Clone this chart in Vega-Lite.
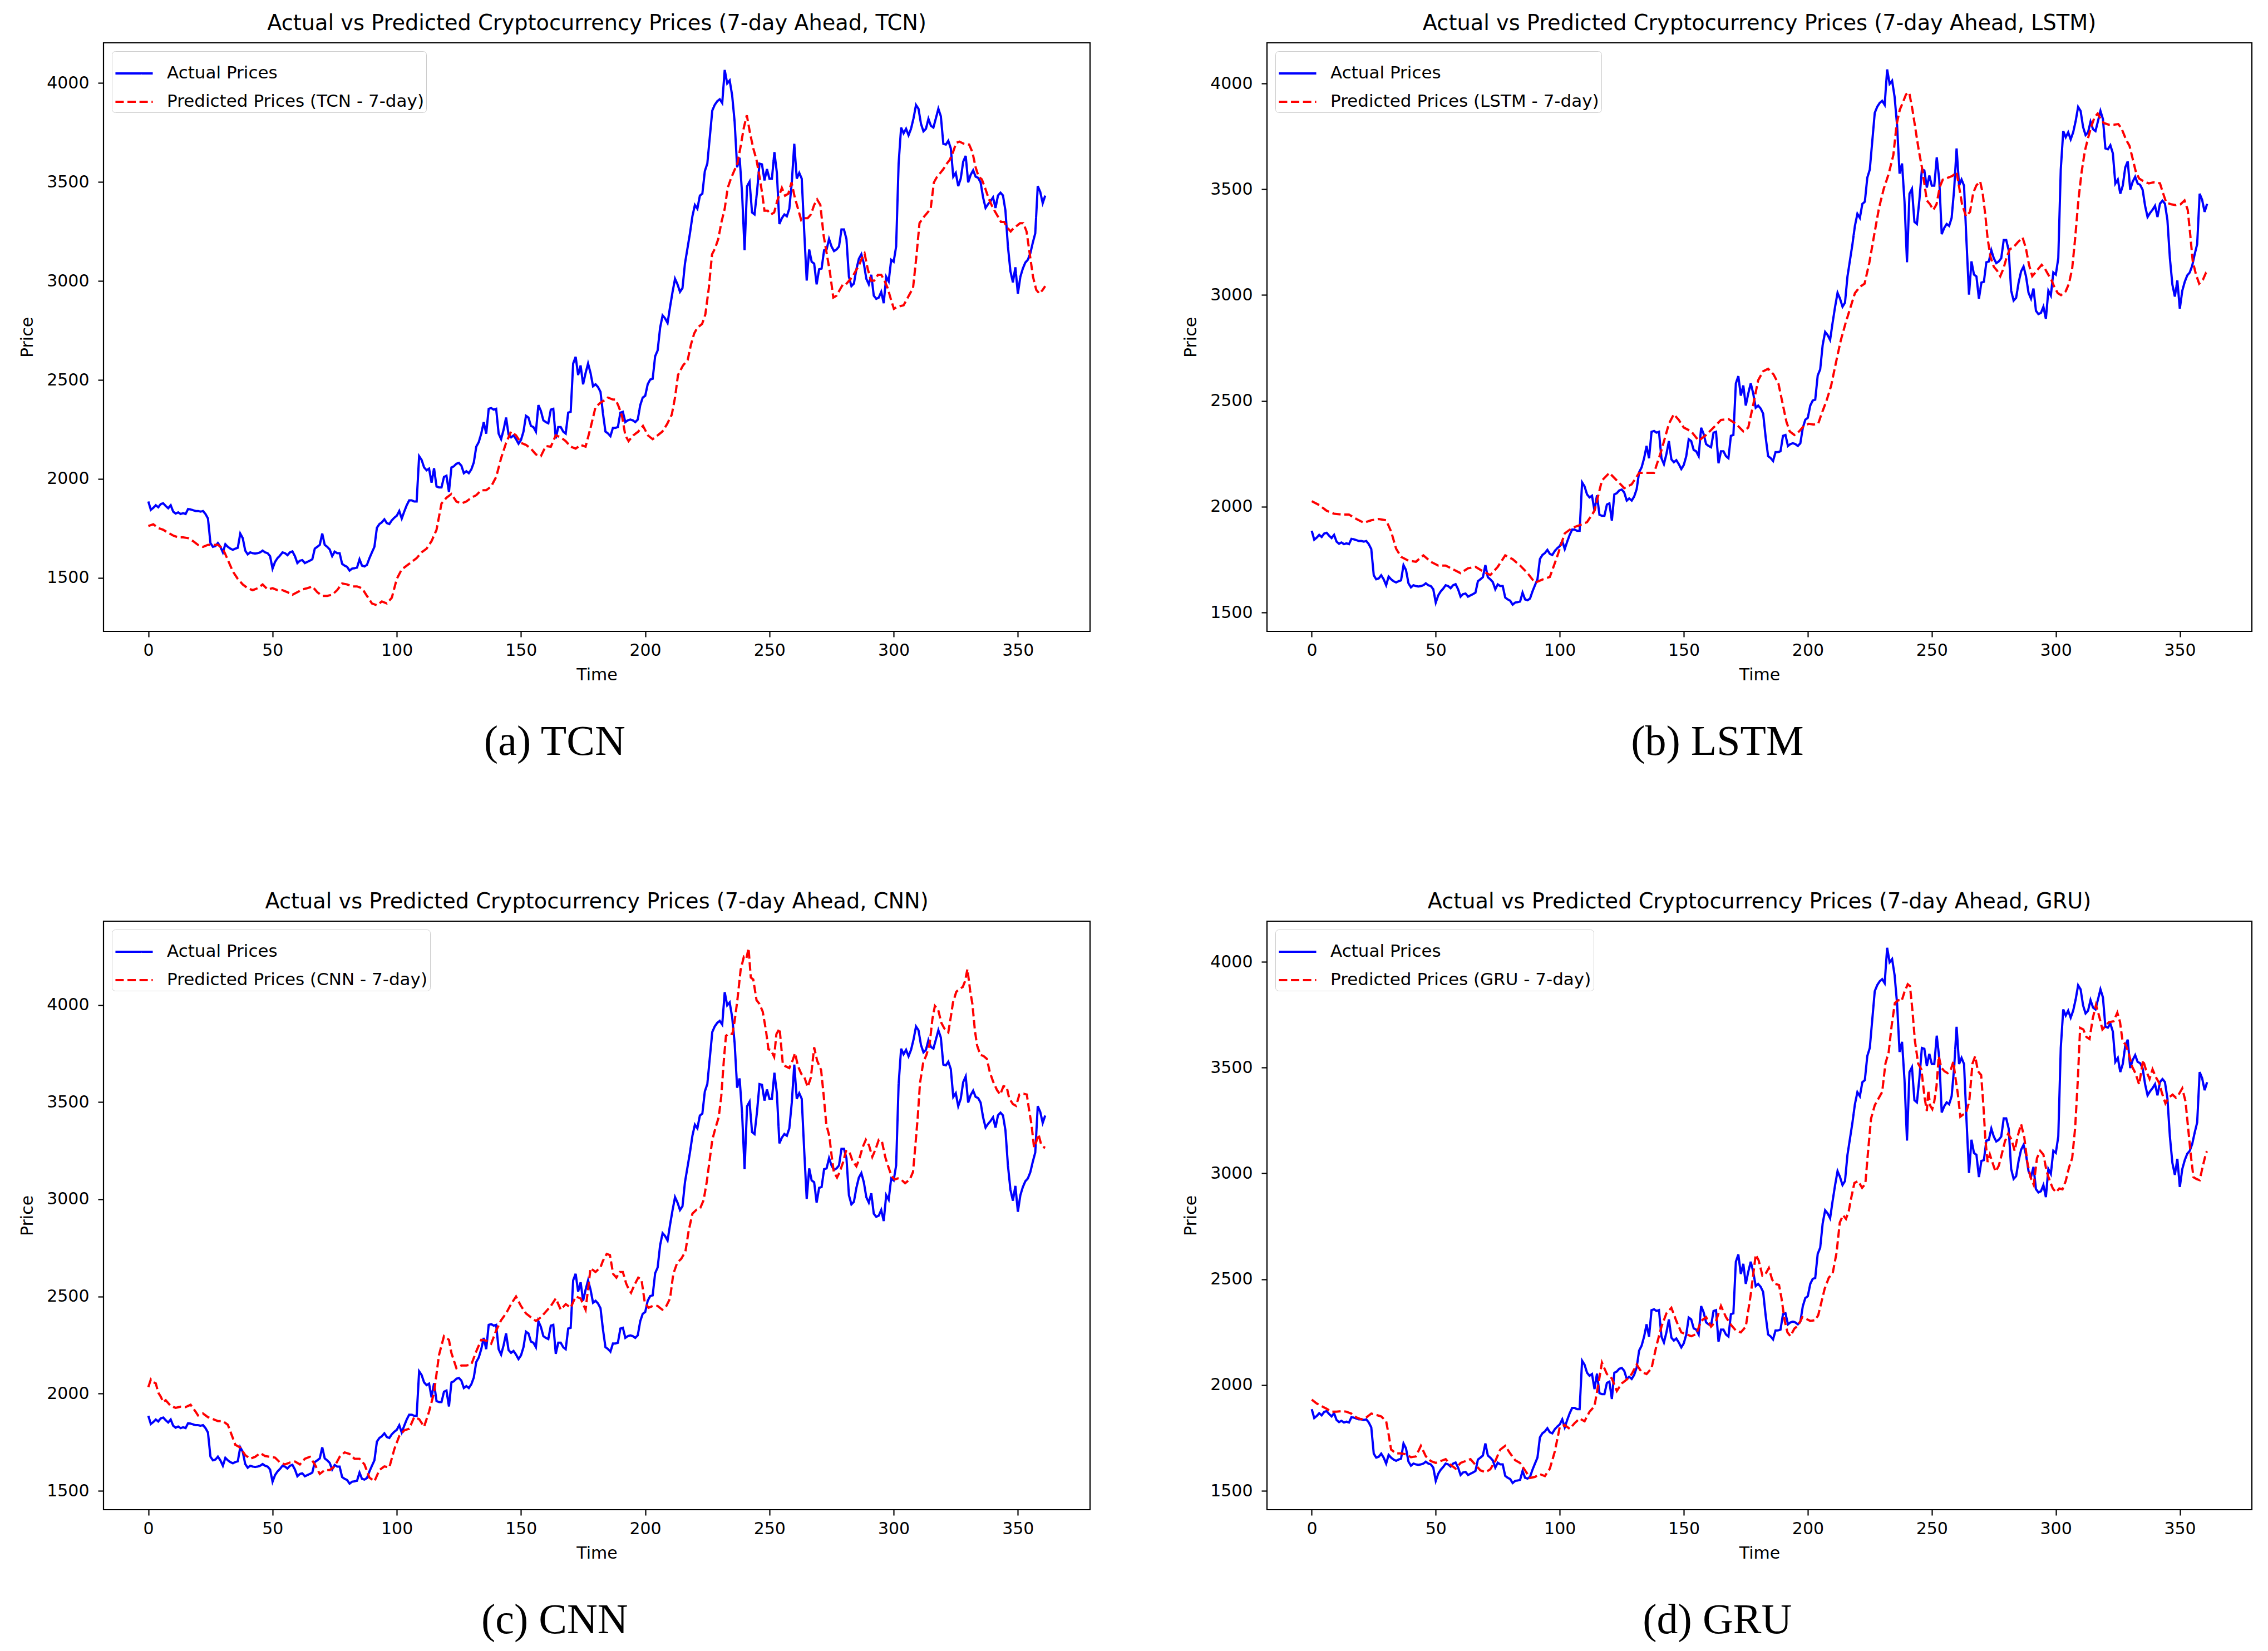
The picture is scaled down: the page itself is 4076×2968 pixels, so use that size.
{
"$schema":"https://vega.github.io/schema/vega-lite/v6.json",
"background":"white",
"padding":{"left":33,"top":21,"right":5,"bottom":5},
"config":{
"font":"DejaVu Sans",
"view":{"stroke":"black","strokeWidth":2.2},
"axis":{"domain":false,"grid":false,"ticks":true,"tickColor":"black","tickSize":10,"tickWidth":2.2,"labelFont":"DejaVu Sans","labelFontSize":30,"labelColor":"black","labelPadding":9,"titleFont":"DejaVu Sans","titleFontSize":30,"titleFontWeight":"normal","titleColor":"black"},
"axisY":{"labelPadding":16,"titlePadding":19},
"axisX":{"titlePadding":14},
"legend":{"orient":"top-left","offset":15,"padding":4,"fillColor":"rgba(255,255,255,0.8)","strokeColor":"#cccccc","cornerRadius":6,"labelFont":"DejaVu Sans","labelFontSize":31,"labelColor":"black","labelLimit":0,"symbolType":"stroke","symbolSize":4500,"symbolStrokeWidth":4,"labelOffset":23,"rowPadding":0,"titlePadding":0},
"title":{"font":"DejaVu Sans","fontWeight":"normal","color":"black"}
},
"datasets":{
"actual":[{"t":0,"p":1886},{"t":1,"p":1844},{"t":2,"p":1854},{"t":3,"p":1867},{"t":4,"p":1857},{"t":5,"p":1873},{"t":6,"p":1877},{"t":7,"p":1863},{"t":8,"p":1852},{"t":9,"p":1867},{"t":10,"p":1835},{"t":11,"p":1825},{"t":12,"p":1831},{"t":13,"p":1823},{"t":14,"p":1827},{"t":15,"p":1823},{"t":16,"p":1848},{"t":17,"p":1846},{"t":18,"p":1842},{"t":19,"p":1838},{"t":20,"p":1838},{"t":21,"p":1835},{"t":22,"p":1838},{"t":23,"p":1823},{"t":24,"p":1800},{"t":25,"p":1676},{"t":26,"p":1657},{"t":27,"p":1661},{"t":28,"p":1676},{"t":29,"p":1657},{"t":30,"p":1629},{"t":31,"p":1670},{"t":32,"p":1657},{"t":33,"p":1648},{"t":34,"p":1642},{"t":35,"p":1648},{"t":36,"p":1652},{"t":37,"p":1724},{"t":38,"p":1701},{"t":39,"p":1638},{"t":40,"p":1619},{"t":41,"p":1629},{"t":42,"p":1625},{"t":43,"p":1623},{"t":44,"p":1625},{"t":45,"p":1629},{"t":46,"p":1638},{"t":47,"p":1629},{"t":48,"p":1625},{"t":49,"p":1610},{"t":50,"p":1547},{"t":51,"p":1581},{"t":52,"p":1600},{"t":53,"p":1613},{"t":54,"p":1629},{"t":55,"p":1625},{"t":56,"p":1615},{"t":57,"p":1629},{"t":58,"p":1634},{"t":59,"p":1610},{"t":60,"p":1575},{"t":61,"p":1587},{"t":62,"p":1590},{"t":63,"p":1575},{"t":64,"p":1581},{"t":65,"p":1587},{"t":66,"p":1594},{"t":67,"p":1648},{"t":68,"p":1657},{"t":69,"p":1667},{"t":70,"p":1724},{"t":71,"p":1667},{"t":72,"p":1657},{"t":73,"p":1644},{"t":74,"p":1610},{"t":75,"p":1633},{"t":76,"p":1625},{"t":77,"p":1625},{"t":78,"p":1571},{"t":79,"p":1562},{"t":80,"p":1556},{"t":81,"p":1537},{"t":82,"p":1547},{"t":83,"p":1549},{"t":84,"p":1552},{"t":85,"p":1594},{"t":86,"p":1562},{"t":87,"p":1558},{"t":88,"p":1566},{"t":89,"p":1600},{"t":90,"p":1629},{"t":91,"p":1657},{"t":92,"p":1753},{"t":93,"p":1772},{"t":94,"p":1781},{"t":95,"p":1796},{"t":96,"p":1777},{"t":97,"p":1772},{"t":98,"p":1791},{"t":99,"p":1804},{"t":100,"p":1814},{"t":101,"p":1838},{"t":102,"p":1800},{"t":103,"p":1835},{"t":104,"p":1867},{"t":105,"p":1892},{"t":106,"p":1892},{"t":107,"p":1886},{"t":108,"p":1886},{"t":109,"p":2115},{"t":110,"p":2096},{"t":111,"p":2058},{"t":112,"p":2044},{"t":113,"p":2052},{"t":114,"p":1981},{"t":115,"p":2054},{"t":116,"p":1962},{"t":117,"p":1957},{"t":118,"p":1957},{"t":119,"p":2010},{"t":120,"p":2016},{"t":121,"p":1934},{"t":122,"p":2058},{"t":123,"p":2064},{"t":124,"p":2077},{"t":125,"p":2081},{"t":126,"p":2067},{"t":127,"p":2029},{"t":128,"p":2039},{"t":129,"p":2029},{"t":130,"p":2048},{"t":131,"p":2083},{"t":132,"p":2163},{"t":133,"p":2186},{"t":134,"p":2229},{"t":135,"p":2287},{"t":136,"p":2229},{"t":137,"p":2354},{"t":138,"p":2358},{"t":139,"p":2350},{"t":140,"p":2354},{"t":141,"p":2229},{"t":142,"p":2201},{"t":143,"p":2249},{"t":144,"p":2310},{"t":145,"p":2224},{"t":146,"p":2210},{"t":147,"p":2220},{"t":148,"p":2201},{"t":149,"p":2178},{"t":150,"p":2197},{"t":151,"p":2239},{"t":152,"p":2319},{"t":153,"p":2310},{"t":154,"p":2268},{"t":155,"p":2262},{"t":156,"p":2239},{"t":157,"p":2373},{"t":158,"p":2344},{"t":159,"p":2296},{"t":160,"p":2287},{"t":161,"p":2281},{"t":162,"p":2350},{"t":163,"p":2354},{"t":164,"p":2205},{"t":165,"p":2262},{"t":166,"p":2262},{"t":167,"p":2239},{"t":168,"p":2229},{"t":169,"p":2335},{"t":170,"p":2339},{"t":171,"p":2583},{"t":172,"p":2617},{"t":173,"p":2525},{"t":174,"p":2573},{"t":175,"p":2478},{"t":176,"p":2535},{"t":177,"p":2583},{"t":178,"p":2535},{"t":179,"p":2468},{"t":180,"p":2478},{"t":181,"p":2464},{"t":182,"p":2440},{"t":183,"p":2330},{"t":184,"p":2239},{"t":185,"p":2230},{"t":186,"p":2216},{"t":187,"p":2258},{"t":188,"p":2258},{"t":189,"p":2262},{"t":190,"p":2335},{"t":191,"p":2339},{"t":192,"p":2287},{"t":193,"p":2296},{"t":194,"p":2300},{"t":195,"p":2296},{"t":196,"p":2287},{"t":197,"p":2300},{"t":198,"p":2373},{"t":199,"p":2411},{"t":200,"p":2420},{"t":201,"p":2478},{"t":202,"p":2502},{"t":203,"p":2506},{"t":204,"p":2620},{"t":205,"p":2649},{"t":206,"p":2764},{"t":207,"p":2826},{"t":208,"p":2811},{"t":209,"p":2788},{"t":210,"p":2869},{"t":211,"p":2944},{"t":212,"p":3011},{"t":213,"p":2983},{"t":214,"p":2945},{"t":215,"p":2964},{"t":216,"p":3088},{"t":217,"p":3164},{"t":218,"p":3240},{"t":219,"p":3327},{"t":220,"p":3384},{"t":221,"p":3365},{"t":222,"p":3431},{"t":223,"p":3441},{"t":224,"p":3555},{"t":225,"p":3593},{"t":226,"p":3727},{"t":227,"p":3861},{"t":228,"p":3890},{"t":229,"p":3908},{"t":230,"p":3918},{"t":231,"p":3899},{"t":232,"p":4066},{"t":233,"p":3998},{"t":234,"p":4013},{"t":235,"p":3937},{"t":236,"p":3803},{"t":237,"p":3574},{"t":238,"p":3622},{"t":239,"p":3441},{"t":240,"p":3155},{"t":241,"p":3479},{"t":242,"p":3502},{"t":243,"p":3346},{"t":244,"p":3336},{"t":245,"p":3450},{"t":246,"p":3593},{"t":247,"p":3589},{"t":248,"p":3508},{"t":249,"p":3565},{"t":250,"p":3517},{"t":251,"p":3517},{"t":252,"p":3651},{"t":253,"p":3546},{"t":254,"p":3288},{"t":255,"p":3317},{"t":256,"p":3336},{"t":257,"p":3327},{"t":258,"p":3365},{"t":259,"p":3498},{"t":260,"p":3693},{"t":261,"p":3517},{"t":262,"p":3546},{"t":263,"p":3517},{"t":264,"p":3250},{"t":265,"p":3002},{"t":266,"p":3159},{"t":267,"p":3097},{"t":268,"p":3088},{"t":269,"p":2983},{"t":270,"p":3059},{"t":271,"p":3063},{"t":272,"p":3155},{"t":273,"p":3159},{"t":274,"p":3212},{"t":275,"p":3174},{"t":276,"p":3151},{"t":277,"p":3159},{"t":278,"p":3174},{"t":279,"p":3260},{"t":280,"p":3260},{"t":281,"p":3212},{"t":282,"p":3021},{"t":283,"p":2974},{"t":284,"p":2987},{"t":285,"p":3059},{"t":286,"p":3112},{"t":287,"p":3135},{"t":288,"p":3088},{"t":289,"p":3011},{"t":290,"p":2983},{"t":291,"p":3031},{"t":292,"p":2926},{"t":293,"p":2910},{"t":294,"p":2916},{"t":295,"p":2945},{"t":296,"p":2888},{"t":297,"p":3021},{"t":298,"p":2998},{"t":299,"p":3107},{"t":300,"p":3097},{"t":301,"p":3174},{"t":302,"p":3593},{"t":303,"p":3775},{"t":304,"p":3746},{"t":305,"p":3769},{"t":306,"p":3736},{"t":307,"p":3769},{"t":308,"p":3822},{"t":309,"p":3889},{"t":310,"p":3870},{"t":311,"p":3794},{"t":312,"p":3756},{"t":313,"p":3769},{"t":314,"p":3819},{"t":315,"p":3784},{"t":316,"p":3775},{"t":317,"p":3822},{"t":318,"p":3870},{"t":319,"p":3832},{"t":320,"p":3693},{"t":321,"p":3689},{"t":322,"p":3708},{"t":323,"p":3670},{"t":324,"p":3527},{"t":325,"p":3546},{"t":326,"p":3479},{"t":327,"p":3517},{"t":328,"p":3603},{"t":329,"p":3632},{"t":330,"p":3498},{"t":331,"p":3536},{"t":332,"p":3559},{"t":333,"p":3527},{"t":334,"p":3521},{"t":335,"p":3498},{"t":336,"p":3422},{"t":337,"p":3369},{"t":338,"p":3388},{"t":339,"p":3403},{"t":340,"p":3422},{"t":341,"p":3369},{"t":342,"p":3432},{"t":343,"p":3446},{"t":344,"p":3432},{"t":345,"p":3355},{"t":346,"p":3174},{"t":347,"p":3050},{"t":348,"p":2993},{"t":349,"p":3069},{"t":350,"p":2936},{"t":351,"p":3021},{"t":352,"p":3063},{"t":353,"p":3093},{"t":354,"p":3107},{"t":355,"p":3139},{"t":356,"p":3193},{"t":357,"p":3241},{"t":358,"p":3479},{"t":359,"p":3450},{"t":360,"p":3393},{"t":361,"p":3431}],
"tcn":[{"t":0,"p":1762},{"t":2,"p":1771},{"t":4,"p":1752},{"t":6,"p":1743},{"t":8,"p":1728},{"t":10,"p":1714},{"t":12,"p":1705},{"t":14,"p":1705},{"t":16,"p":1701},{"t":18,"p":1686},{"t":20,"p":1667},{"t":22,"p":1657},{"t":24,"p":1667},{"t":26,"p":1667},{"t":28,"p":1667},{"t":30,"p":1648},{"t":32,"p":1591},{"t":34,"p":1533},{"t":36,"p":1495},{"t":38,"p":1467},{"t":40,"p":1448},{"t":42,"p":1438},{"t":44,"p":1448},{"t":46,"p":1467},{"t":48,"p":1442},{"t":50,"p":1448},{"t":52,"p":1438},{"t":54,"p":1438},{"t":56,"p":1428},{"t":58,"p":1415},{"t":60,"p":1428},{"t":62,"p":1442},{"t":64,"p":1448},{"t":66,"p":1457},{"t":68,"p":1428},{"t":70,"p":1409},{"t":72,"p":1409},{"t":74,"p":1415},{"t":76,"p":1438},{"t":78,"p":1472},{"t":80,"p":1467},{"t":82,"p":1457},{"t":84,"p":1457},{"t":86,"p":1448},{"t":88,"p":1409},{"t":90,"p":1371},{"t":92,"p":1362},{"t":94,"p":1381},{"t":96,"p":1371},{"t":98,"p":1400},{"t":100,"p":1495},{"t":102,"p":1543},{"t":104,"p":1562},{"t":106,"p":1581},{"t":108,"p":1600},{"t":110,"p":1629},{"t":112,"p":1648},{"t":114,"p":1686},{"t":116,"p":1743},{"t":118,"p":1876},{"t":120,"p":1905},{"t":122,"p":1924},{"t":124,"p":1886},{"t":126,"p":1876},{"t":128,"p":1886},{"t":130,"p":1905},{"t":132,"p":1918},{"t":134,"p":1943},{"t":136,"p":1943},{"t":138,"p":1962},{"t":140,"p":2010},{"t":142,"p":2105},{"t":144,"p":2182},{"t":146,"p":2239},{"t":148,"p":2220},{"t":150,"p":2182},{"t":152,"p":2172},{"t":154,"p":2153},{"t":156,"p":2124},{"t":158,"p":2115},{"t":160,"p":2166},{"t":162,"p":2163},{"t":164,"p":2220},{"t":166,"p":2210},{"t":168,"p":2191},{"t":170,"p":2163},{"t":172,"p":2153},{"t":174,"p":2172},{"t":176,"p":2163},{"t":178,"p":2258},{"t":180,"p":2363},{"t":182,"p":2385},{"t":184,"p":2400},{"t":185,"p":2411},{"t":187,"p":2401},{"t":188.1,"p":2401},{"t":189.4,"p":2363},{"t":190.7,"p":2315},{"t":192,"p":2220},{"t":193.3,"p":2191},{"t":195.2,"p":2220},{"t":197.2,"p":2239},{"t":199.1,"p":2268},{"t":201.1,"p":2220},{"t":203,"p":2201},{"t":205,"p":2220},{"t":206.9,"p":2239},{"t":208.8,"p":2277},{"t":210.7,"p":2325},{"t":212,"p":2411},{"t":213.2,"p":2525},{"t":215.2,"p":2573},{"t":217.1,"p":2601},{"t":218.4,"p":2678},{"t":219.7,"p":2735},{"t":221,"p":2764},{"t":222.9,"p":2783},{"t":224.2,"p":2831},{"t":225.6,"p":2964},{"t":226.9,"p":3135},{"t":228.1,"p":3164},{"t":229.4,"p":3212},{"t":230.7,"p":3298},{"t":232,"p":3365},{"t":233.2,"p":3470},{"t":234.5,"p":3517},{"t":235.8,"p":3556},{"t":237.1,"p":3593},{"t":238.4,"p":3679},{"t":239.7,"p":3775},{"t":240.9,"p":3837},{"t":242.2,"p":3746},{"t":243.5,"p":3670},{"t":244.8,"p":3612},{"t":246,"p":3527},{"t":247.1,"p":3441},{"t":248,"p":3355},{"t":249.3,"p":3355},{"t":250.6,"p":3336},{"t":251.9,"p":3346},{"t":253.1,"p":3403},{"t":255,"p":3470},{"t":256.3,"p":3431},{"t":257.6,"p":3441},{"t":258.9,"p":3498},{"t":260.2,"p":3422},{"t":261.5,"p":3365},{"t":262.8,"p":3307},{"t":264.1,"p":3317},{"t":265.4,"p":3317},{"t":266.7,"p":3336},{"t":268,"p":3384},{"t":269.2,"p":3412},{"t":270.5,"p":3384},{"t":271.8,"p":3231},{"t":273.1,"p":3135},{"t":274.4,"p":3040},{"t":275.7,"p":2916},{"t":277,"p":2926},{"t":278.3,"p":2955},{"t":279.6,"p":2983},{"t":280.8,"p":2983},{"t":282.1,"p":3002},{"t":283.4,"p":3021},{"t":284.7,"p":3050},{"t":286,"p":3078},{"t":287.3,"p":3117},{"t":288.3,"p":3139},{"t":289.6,"p":3059},{"t":290.9,"p":3002},{"t":292.2,"p":3002},{"t":293.7,"p":3031},{"t":295,"p":3031},{"t":296.3,"p":3002},{"t":297.6,"p":2964},{"t":298.9,"p":2907},{"t":300.1,"p":2859},{"t":301.4,"p":2869},{"t":302.7,"p":2873},{"t":304,"p":2877},{"t":305.3,"p":2907},{"t":306.5,"p":2935},{"t":307.8,"p":2964},{"t":309.1,"p":3117},{"t":310.4,"p":3292},{"t":311.7,"p":3317},{"t":313,"p":3336},{"t":314.9,"p":3365},{"t":316.2,"p":3498},{"t":317.5,"p":3527},{"t":318.8,"p":3546},{"t":320,"p":3565},{"t":321.4,"p":3593},{"t":322.6,"p":3612},{"t":323.9,"p":3651},{"t":325.2,"p":3698},{"t":326.5,"p":3704},{"t":328.4,"p":3692},{"t":330.4,"p":3689},{"t":331.7,"p":3651},{"t":333,"p":3574},{"t":334.2,"p":3527},{"t":335.5,"p":3513},{"t":336.8,"p":3470},{"t":338.1,"p":3422},{"t":339.4,"p":3384},{"t":340.6,"p":3355},{"t":341.9,"p":3327},{"t":343.2,"p":3298},{"t":344.5,"p":3298},{"t":345.8,"p":3269},{"t":347.1,"p":3250},{"t":348.4,"p":3269},{"t":349.6,"p":3279},{"t":350.9,"p":3292},{"t":352.2,"p":3292},{"t":353.5,"p":3250},{"t":354.8,"p":3135},{"t":356.1,"p":3021},{"t":357.4,"p":2955},{"t":358.7,"p":2936},{"t":360,"p":2955},{"t":361,"p":2974}],
"lstm":[{"t":0,"p":2026},{"t":3,"p":2008},{"t":6,"p":1981},{"t":9,"p":1967},{"t":12,"p":1963},{"t":15,"p":1963},{"t":18,"p":1942},{"t":21,"p":1924},{"t":24,"p":1936},{"t":27,"p":1942},{"t":30,"p":1936},{"t":32,"p":1883},{"t":34,"p":1802},{"t":36,"p":1763},{"t":39,"p":1745},{"t":42,"p":1740},{"t":45,"p":1770},{"t":48,"p":1740},{"t":51,"p":1722},{"t":54,"p":1722},{"t":57,"p":1704},{"t":60,"p":1686},{"t":63,"p":1709},{"t":66,"p":1716},{"t":69,"p":1695},{"t":72,"p":1677},{"t":75,"p":1716},{"t":78,"p":1770},{"t":81,"p":1752},{"t":84,"p":1722},{"t":87,"p":1686},{"t":90,"p":1641},{"t":93,"p":1656},{"t":96,"p":1668},{"t":99,"p":1766},{"t":102,"p":1874},{"t":105,"p":1900},{"t":108,"p":1913},{"t":111,"p":1927},{"t":114,"p":1981},{"t":117,"p":2124},{"t":120,"p":2160},{"t":123,"p":2124},{"t":126,"p":2088},{"t":129,"p":2106},{"t":132,"p":2160},{"t":135,"p":2160},{"t":138,"p":2160},{"t":141,"p":2267},{"t":144,"p":2392},{"t":146,"p":2437},{"t":148,"p":2410},{"t":150,"p":2374},{"t":153,"p":2356},{"t":156,"p":2312},{"t":159,"p":2339},{"t":162,"p":2374},{"t":165,"p":2410},{"t":168,"p":2414},{"t":171,"p":2392},{"t":174,"p":2356},{"t":176,"p":2374},{"t":178,"p":2482},{"t":180,"p":2598},{"t":182,"p":2640},{"t":184,"p":2652},{"t":186.2,"p":2625},{"t":188.2,"p":2580},{"t":190.1,"p":2473},{"t":191.4,"p":2401},{"t":192.7,"p":2356},{"t":194.6,"p":2339},{"t":196.5,"p":2356},{"t":198.5,"p":2383},{"t":200.4,"p":2392},{"t":202.3,"p":2388},{"t":204.2,"p":2392},{"t":205.5,"p":2437},{"t":207.5,"p":2499},{"t":209.4,"p":2571},{"t":211.3,"p":2678},{"t":213.3,"p":2786},{"t":215.2,"p":2866},{"t":217.1,"p":2938},{"t":219,"p":3009},{"t":221,"p":3039},{"t":222.9,"p":3054},{"t":224.8,"p":3152},{"t":226.8,"p":3286},{"t":228.7,"p":3411},{"t":230.6,"p":3501},{"t":232.6,"p":3572},{"t":234.5,"p":3662},{"t":235.8,"p":3805},{"t":237.1,"p":3876},{"t":238.4,"p":3912},{"t":239.6,"p":3948},{"t":240.9,"p":3957},{"t":242.2,"p":3876},{"t":243.5,"p":3778},{"t":244.8,"p":3680},{"t":246.1,"p":3599},{"t":247.1,"p":3519},{"t":248,"p":3447},{"t":249.3,"p":3429},{"t":250.6,"p":3402},{"t":251.9,"p":3429},{"t":253.2,"p":3510},{"t":254.4,"p":3545},{"t":256.4,"p":3554},{"t":258.3,"p":3563},{"t":260,"p":3581},{"t":260.9,"p":3519},{"t":262.2,"p":3429},{"t":263.8,"p":3372},{"t":265.4,"p":3393},{"t":266.7,"p":3483},{"t":268,"p":3519},{"t":269.5,"p":3537},{"t":270.5,"p":3483},{"t":271.6,"p":3376},{"t":272.5,"p":3268},{"t":273.7,"p":3179},{"t":275,"p":3134},{"t":276.3,"p":3116},{"t":277.6,"p":3089},{"t":278.9,"p":3125},{"t":280.2,"p":3179},{"t":281.5,"p":3218},{"t":282.8,"p":3224},{"t":284.7,"p":3250},{"t":286.6,"p":3272},{"t":287.9,"p":3224},{"t":289.2,"p":3143},{"t":290.5,"p":3089},{"t":292.4,"p":3116},{"t":294.3,"p":3143},{"t":295.6,"p":3125},{"t":296.9,"p":3098},{"t":298.2,"p":3072},{"t":299.5,"p":3036},{"t":300.8,"p":3009},{"t":302.1,"p":3000},{"t":304,"p":3018},{"t":305.3,"p":3054},{"t":306.6,"p":3125},{"t":307.8,"p":3268},{"t":309.1,"p":3447},{"t":310.4,"p":3581},{"t":311.7,"p":3680},{"t":313,"p":3742},{"t":314.3,"p":3796},{"t":315.6,"p":3840},{"t":316.9,"p":3858},{"t":318.1,"p":3831},{"t":319.4,"p":3813},{"t":321.4,"p":3805},{"t":323.3,"p":3805},{"t":325.2,"p":3808},{"t":326.5,"p":3787},{"t":328.4,"p":3733},{"t":329.7,"p":3706},{"t":331,"p":3644},{"t":332.3,"p":3581},{"t":333.6,"p":3551},{"t":335.5,"p":3537},{"t":337.5,"p":3528},{"t":339.4,"p":3533},{"t":342,"p":3528},{"t":343.2,"p":3483},{"t":344.5,"p":3438},{"t":346.5,"p":3429},{"t":348.4,"p":3425},{"t":350.3,"p":3429},{"t":351.9,"p":3447},{"t":353.2,"p":3402},{"t":354.2,"p":3286},{"t":355.2,"p":3161},{"t":356.5,"p":3098},{"t":357.8,"p":3054},{"t":359.3,"p":3072},{"t":360.6,"p":3107},{"t":361,"p":3110}],
"cnn":[{"t":0,"p":2034},{"t":1,"p":2073},{"t":2,"p":2059},{"t":3,"p":2053},{"t":4,"p":2005},{"t":5,"p":1985},{"t":6,"p":1956},{"t":7,"p":1966},{"t":9,"p":1937},{"t":11,"p":1927},{"t":13,"p":1933},{"t":15,"p":1931},{"t":17,"p":1943},{"t":19,"p":1908},{"t":20,"p":1888},{"t":22,"p":1898},{"t":24,"p":1879},{"t":26,"p":1869},{"t":28,"p":1859},{"t":30,"p":1859},{"t":32,"p":1840},{"t":34,"p":1772},{"t":35,"p":1737},{"t":37,"p":1723},{"t":39,"p":1684},{"t":41,"p":1665},{"t":43,"p":1675},{"t":45,"p":1694},{"t":47,"p":1679},{"t":49,"p":1675},{"t":51,"p":1671},{"t":53,"p":1646},{"t":55,"p":1636},{"t":57,"p":1646},{"t":59,"p":1651},{"t":61,"p":1636},{"t":63,"p":1665},{"t":65,"p":1675},{"t":67,"p":1636},{"t":69,"p":1587},{"t":71,"p":1607},{"t":73,"p":1607},{"t":75,"p":1626},{"t":77,"p":1675},{"t":79,"p":1698},{"t":81,"p":1690},{"t":83,"p":1665},{"t":85,"p":1665},{"t":87,"p":1636},{"t":89,"p":1568},{"t":91,"p":1549},{"t":93,"p":1607},{"t":95,"p":1626},{"t":97,"p":1620},{"t":99,"p":1714},{"t":101,"p":1782},{"t":103,"p":1811},{"t":105,"p":1820},{"t":107,"p":1879},{"t":109,"p":1869},{"t":111,"p":1830},{"t":113,"p":1908},{"t":115,"p":2005},{"t":117,"p":2199},{"t":119,"p":2296},{"t":121,"p":2277},{"t":122,"p":2209},{"t":124,"p":2131},{"t":126,"p":2145},{"t":128,"p":2145},{"t":130,"p":2150},{"t":132,"p":2218},{"t":134,"p":2277},{"t":136,"p":2273},{"t":138,"p":2257},{"t":140,"p":2325},{"t":142,"p":2378},{"t":144,"p":2413},{"t":146,"p":2461},{"t":148,"p":2500},{"t":150,"p":2451},{"t":152,"p":2413},{"t":154,"p":2393},{"t":156,"p":2374},{"t":158,"p":2393},{"t":160,"p":2422},{"t":162,"p":2451},{"t":164,"p":2490},{"t":166,"p":2432},{"t":168,"p":2461},{"t":170,"p":2442},{"t":172,"p":2500},{"t":174,"p":2490},{"t":176,"p":2432},{"t":178,"p":2646},{"t":180,"p":2626},{"t":182,"p":2650},{"t":183,"p":2684},{"t":184.5,"p":2719},{"t":185.8,"p":2713},{"t":187.1,"p":2616},{"t":188.4,"p":2597},{"t":189.7,"p":2626},{"t":191,"p":2626},{"t":192.3,"p":2568},{"t":193.3,"p":2539},{"t":194.3,"p":2519},{"t":195.6,"p":2558},{"t":197.2,"p":2597},{"t":198.5,"p":2587},{"t":199.8,"p":2471},{"t":201.3,"p":2442},{"t":203,"p":2451},{"t":205,"p":2451},{"t":206.9,"p":2432},{"t":208.5,"p":2451},{"t":210,"p":2490},{"t":211.3,"p":2616},{"t":212.9,"p":2674},{"t":214.5,"p":2694},{"t":216.2,"p":2732},{"t":217.5,"p":2839},{"t":219,"p":2926},{"t":220.6,"p":2946},{"t":222.2,"p":2956},{"t":223.5,"p":2995},{"t":224.8,"p":3092},{"t":225.8,"p":3189},{"t":227,"p":3306},{"t":228.3,"p":3368},{"t":229.6,"p":3423},{"t":230.6,"p":3529},{"t":231.7,"p":3724},{"t":232.5,"p":3841},{"t":233.9,"p":3854},{"t":235.1,"p":3850},{"t":236,"p":3918},{"t":237.1,"p":4025},{"t":238.4,"p":4180},{"t":239.7,"p":4248},{"t":240.7,"p":4238},{"t":241.6,"p":4292},{"t":242.5,"p":4141},{"t":243.5,"p":4131},{"t":244.8,"p":4025},{"t":246,"p":4005},{"t":247.3,"p":3966},{"t":248.6,"p":3869},{"t":249.6,"p":3772},{"t":250.6,"p":3768},{"t":251.9,"p":3733},{"t":252.8,"p":3850},{"t":254.1,"p":3879},{"t":255.4,"p":3694},{"t":256.4,"p":3685},{"t":258,"p":3675},{"t":259.3,"p":3713},{"t":260.3,"p":3752},{"t":261.5,"p":3685},{"t":262.8,"p":3646},{"t":264.1,"p":3627},{"t":265.4,"p":3578},{"t":266.7,"p":3627},{"t":268,"p":3782},{"t":269.2,"p":3713},{"t":270.8,"p":3665},{"t":271.8,"p":3539},{"t":272.9,"p":3384},{"t":274.1,"p":3326},{"t":275,"p":3228},{"t":275.9,"p":3141},{"t":277.2,"p":3112},{"t":278.3,"p":3141},{"t":279.6,"p":3189},{"t":280.8,"p":3248},{"t":282.1,"p":3248},{"t":283.4,"p":3199},{"t":285,"p":3170},{"t":286.2,"p":3209},{"t":287.5,"p":3267},{"t":288.8,"p":3306},{"t":290.1,"p":3277},{"t":291.4,"p":3218},{"t":292.7,"p":3257},{"t":294,"p":3306},{"t":295.3,"p":3297},{"t":296.6,"p":3218},{"t":297.8,"p":3170},{"t":299.1,"p":3121},{"t":300.4,"p":3102},{"t":301.7,"p":3108},{"t":303,"p":3102},{"t":304.6,"p":3083},{"t":306.5,"p":3102},{"t":307.8,"p":3141},{"t":308.8,"p":3286},{"t":309.7,"p":3423},{"t":310.6,"p":3597},{"t":311.9,"p":3704},{"t":313.2,"p":3743},{"t":314.5,"p":3801},{"t":315.6,"p":3928},{"t":316.6,"p":3995},{"t":317.9,"p":3976},{"t":319.2,"p":3908},{"t":320.4,"p":3879},{"t":322,"p":3859},{"t":323.1,"p":3946},{"t":323.9,"p":4014},{"t":325.2,"p":4067},{"t":326.5,"p":4083},{"t":327.8,"p":4092},{"t":328.7,"p":4121},{"t":329.7,"p":4184},{"t":330.8,"p":4073},{"t":331.7,"p":4005},{"t":332.7,"p":3869},{"t":333.6,"p":3791},{"t":334.9,"p":3743},{"t":336.2,"p":3737},{"t":337.5,"p":3723},{"t":338.7,"p":3655},{"t":340,"p":3607},{"t":341.6,"p":3562},{"t":342.9,"p":3539},{"t":344.2,"p":3582},{"t":345.5,"p":3578},{"t":346.5,"p":3520},{"t":348,"p":3490},{"t":349.3,"p":3481},{"t":350.6,"p":3539},{"t":352.3,"p":3543},{"t":353.6,"p":3539},{"t":354.5,"p":3461},{"t":355.5,"p":3384},{"t":356.5,"p":3267},{"t":357.4,"p":3296},{"t":358.3,"p":3335},{"t":359.3,"p":3286},{"t":360.6,"p":3267},{"t":361,"p":3265}],
"gru":[{"t":0,"p":1931},{"t":2,"p":1913},{"t":4,"p":1900},{"t":6,"p":1888},{"t":8,"p":1874},{"t":10,"p":1874},{"t":12,"p":1877},{"t":14,"p":1874},{"t":16,"p":1865},{"t":18,"p":1847},{"t":20,"p":1838},{"t":22,"p":1847},{"t":24,"p":1865},{"t":26,"p":1859},{"t":28,"p":1852},{"t":30,"p":1829},{"t":31,"p":1766},{"t":32,"p":1695},{"t":34,"p":1677},{"t":36,"p":1677},{"t":38,"p":1673},{"t":40,"p":1659},{"t":42,"p":1663},{"t":44,"p":1713},{"t":46,"p":1663},{"t":48,"p":1641},{"t":50,"p":1632},{"t":52,"p":1641},{"t":54,"p":1650},{"t":56,"p":1623},{"t":58,"p":1605},{"t":60,"p":1632},{"t":62,"p":1641},{"t":64,"p":1650},{"t":66,"p":1623},{"t":68,"p":1597},{"t":70,"p":1588},{"t":72,"p":1602},{"t":74,"p":1641},{"t":76,"p":1695},{"t":78,"p":1713},{"t":80,"p":1677},{"t":82,"p":1645},{"t":84,"p":1632},{"t":86,"p":1597},{"t":88,"p":1561},{"t":90,"p":1566},{"t":92,"p":1579},{"t":94,"p":1570},{"t":96,"p":1605},{"t":98,"p":1686},{"t":100,"p":1802},{"t":102,"p":1811},{"t":104,"p":1793},{"t":106,"p":1820},{"t":108,"p":1842},{"t":110,"p":1829},{"t":112,"p":1874},{"t":114,"p":1900},{"t":116,"p":2035},{"t":117,"p":2106},{"t":119,"p":2052},{"t":121,"p":2031},{"t":123,"p":1972},{"t":125,"p":2008},{"t":127,"p":2026},{"t":129,"p":2052},{"t":131,"p":2097},{"t":133,"p":2061},{"t":135,"p":2052},{"t":137,"p":2079},{"t":139,"p":2187},{"t":141,"p":2276},{"t":143,"p":2339},{"t":145,"p":2365},{"t":147,"p":2303},{"t":149,"p":2249},{"t":151,"p":2240},{"t":153,"p":2231},{"t":155,"p":2240},{"t":157,"p":2303},{"t":159,"p":2321},{"t":161,"p":2276},{"t":163,"p":2303},{"t":165,"p":2374},{"t":167,"p":2321},{"t":169,"p":2285},{"t":171,"p":2258},{"t":173,"p":2249},{"t":175,"p":2276},{"t":177,"p":2428},{"t":179,"p":2616},{"t":180.2,"p":2589},{"t":181.7,"p":2517},{"t":183,"p":2526},{"t":184.3,"p":2553},{"t":185.6,"p":2499},{"t":186.9,"p":2478},{"t":188.4,"p":2473},{"t":189.4,"p":2410},{"t":190.7,"p":2303},{"t":191.8,"p":2249},{"t":193,"p":2231},{"t":194.6,"p":2267},{"t":196.1,"p":2281},{"t":197.8,"p":2321},{"t":199.5,"p":2312},{"t":201,"p":2303},{"t":203,"p":2307},{"t":204.2,"p":2330},{"t":205.5,"p":2392},{"t":206.8,"p":2455},{"t":208.5,"p":2508},{"t":210,"p":2526},{"t":211.6,"p":2625},{"t":212.9,"p":2768},{"t":214.2,"p":2803},{"t":215.4,"p":2785},{"t":216.5,"p":2821},{"t":217.5,"p":2884},{"t":218.8,"p":2955},{"t":220.3,"p":2964},{"t":221.9,"p":2932},{"t":223.2,"p":2950},{"t":224.2,"p":3090},{"t":225.5,"p":3259},{"t":227,"p":3322},{"t":228.7,"p":3358},{"t":230,"p":3385},{"t":231.3,"p":3519},{"t":232.6,"p":3572},{"t":233.8,"p":3697},{"t":235.1,"p":3805},{"t":236.4,"p":3819},{"t":237.8,"p":3814},{"t":239,"p":3858},{"t":240.3,"p":3894},{"t":241.2,"p":3885},{"t":242.2,"p":3769},{"t":243.2,"p":3626},{"t":244.5,"p":3519},{"t":245.8,"p":3492},{"t":247.1,"p":3358},{"t":248,"p":3295},{"t":248.6,"p":3393},{"t":249.3,"p":3322},{"t":250.2,"p":3304},{"t":251,"p":3340},{"t":251.9,"p":3411},{"t":252.8,"p":3554},{"t":253.8,"p":3501},{"t":255.1,"p":3483},{"t":256.4,"p":3474},{"t":257.7,"p":3492},{"t":258.7,"p":3528},{"t":259.6,"p":3447},{"t":260.5,"p":3376},{"t":261.5,"p":3268},{"t":262.5,"p":3277},{"t":263.8,"p":3286},{"t":265.1,"p":3340},{"t":266.4,"p":3519},{"t":267.5,"p":3554},{"t":268.6,"p":3483},{"t":269.9,"p":3465},{"t":270.8,"p":3322},{"t":271.6,"p":3161},{"t":272.5,"p":3054},{"t":273.4,"p":3090},{"t":274.4,"p":3054},{"t":275.7,"p":3009},{"t":277,"p":3036},{"t":278.2,"p":3090},{"t":279.5,"p":3152},{"t":280.8,"p":3188},{"t":282.1,"p":3161},{"t":283.4,"p":3107},{"t":284.7,"p":3179},{"t":286,"p":3233},{"t":287.3,"p":3170},{"t":288.5,"p":3054},{"t":289.8,"p":2982},{"t":291.1,"p":2946},{"t":292.4,"p":3072},{"t":293.7,"p":3107},{"t":295,"p":3089},{"t":296.3,"p":3009},{"t":297.6,"p":2964},{"t":298.8,"p":2929},{"t":300.1,"p":2911},{"t":301.4,"p":2929},{"t":302.7,"p":2925},{"t":304,"p":2964},{"t":305.3,"p":3027},{"t":306.6,"p":3072},{"t":307.8,"p":3215},{"t":308.9,"p":3447},{"t":309.8,"p":3688},{"t":311.1,"p":3680},{"t":312.4,"p":3644},{"t":313.6,"p":3635},{"t":314.9,"p":3733},{"t":316.2,"p":3796},{"t":317.5,"p":3742},{"t":318.8,"p":3680},{"t":320.1,"p":3697},{"t":321.4,"p":3715},{"t":323.3,"p":3719},{"t":324.8,"p":3760},{"t":325.9,"p":3715},{"t":326.9,"p":3626},{"t":328.2,"p":3608},{"t":329.5,"p":3563},{"t":330.8,"p":3504},{"t":332.1,"p":3474},{"t":333.6,"p":3420},{"t":335.2,"p":3536},{"t":336.5,"p":3483},{"t":337.8,"p":3447},{"t":339,"p":3492},{"t":340.3,"p":3456},{"t":341.6,"p":3429},{"t":342.9,"p":3376},{"t":344.2,"p":3331},{"t":345.5,"p":3358},{"t":347.1,"p":3372},{"t":348.4,"p":3358},{"t":349.7,"p":3376},{"t":351,"p":3402},{"t":352.3,"p":3340},{"t":353.5,"p":3197},{"t":354.4,"p":3090},{"t":355.5,"p":2982},{"t":356.8,"p":2973},{"t":358,"p":2968},{"t":359.3,"p":3036},{"t":360.6,"p":3098},{"t":361,"p":3105}]
},
"spacing":227,
"resolve":{"scale":{"color":"independent","strokeDash":"independent","x":"independent","y":"independent"},"legend":{"color":"independent","strokeDash":"independent"}},
"vconcat":[
{"spacing":163,
"resolve":{"scale":{"color":"independent","strokeDash":"independent","x":"independent","y":"independent"},"legend":{"color":"independent","strokeDash":"independent"}},
"hconcat":[
{"title":{"text":"(a) TCN","orient":"bottom","font":"Liberation Serif","fontSize":76,"fontWeight":"normal","anchor":"middle","offset":68},
"vconcat":[{"title":{"text":"Actual vs Predicted Cryptocurrency Prices (7-day Ahead, TCN)","fontSize":38.3,"frame":"group","offset":15},
"width":1773,"height":1058,
"layer":[
{"data":{"name":"actual"},"mark":{"type":"line","strokeWidth":4,"clip":true},
"encoding":{"x":{"field":"t","type":"quantitative","scale":{"domain":[-18.05,379.05],"nice":false,"zero":false},"axis":{"values":[0,50,100,150,200,250,300,350],"title":"Time"}},
"y":{"field":"p","type":"quantitative","scale":{"domain":[1230,4203],"nice":false,"zero":false},"axis":{"values":[1500,2000,2500,3000,3500,4000],"format":"d","title":"Price"}},
"color":{"datum":"Actual Prices","scale":{"domain":["Actual Prices","Predicted Prices (TCN - 7-day)"],"range":["#0000ff","#ff0000"]},"legend":{"title":null}},
"strokeDash":{"datum":"Actual Prices","scale":{"domain":["Actual Prices","Predicted Prices (TCN - 7-day)"],"range":[[1,0],[15,6.6]]},"legend":{"title":null}}}},
{"data":{"name":"tcn"},"mark":{"type":"line","strokeWidth":4,"clip":true},
"encoding":{"x":{"field":"t","type":"quantitative"},"y":{"field":"p","type":"quantitative"},
"color":{"datum":"Predicted Prices (TCN - 7-day)"},"strokeDash":{"datum":"Predicted Prices (TCN - 7-day)"}}}
]}]},
{"title":{"text":"(b) LSTM","orient":"bottom","font":"Liberation Serif","fontSize":76,"fontWeight":"normal","anchor":"middle","offset":68},
"vconcat":[{"title":{"text":"Actual vs Predicted Cryptocurrency Prices (7-day Ahead, LSTM)","fontSize":38.3,"frame":"group","offset":15},
"width":1770,"height":1058,
"layer":[
{"data":{"name":"actual"},"mark":{"type":"line","strokeWidth":4,"clip":true},
"encoding":{"x":{"field":"t","type":"quantitative","scale":{"domain":[-18.05,379.05],"nice":false,"zero":false},"axis":{"values":[0,50,100,150,200,250,300,350],"title":"Time"}},
"y":{"field":"p","type":"quantitative","scale":{"domain":[1411,4192],"nice":false,"zero":false},"axis":{"values":[1500,2000,2500,3000,3500,4000],"format":"d","title":"Price"}},
"color":{"datum":"Actual Prices","scale":{"domain":["Actual Prices","Predicted Prices (LSTM - 7-day)"],"range":["#0000ff","#ff0000"]},"legend":{"title":null}},
"strokeDash":{"datum":"Actual Prices","scale":{"domain":["Actual Prices","Predicted Prices (LSTM - 7-day)"],"range":[[1,0],[15,6.6]]},"legend":{"title":null}}}},
{"data":{"name":"lstm"},"mark":{"type":"line","strokeWidth":4,"clip":true},
"encoding":{"x":{"field":"t","type":"quantitative"},"y":{"field":"p","type":"quantitative"},
"color":{"datum":"Predicted Prices (LSTM - 7-day)"},"strokeDash":{"datum":"Predicted Prices (LSTM - 7-day)"}}}
]}]}
]},
{"spacing":163,
"resolve":{"scale":{"color":"independent","strokeDash":"independent","x":"independent","y":"independent"},"legend":{"color":"independent","strokeDash":"independent"}},
"hconcat":[
{"title":{"text":"(c) CNN","orient":"bottom","font":"Liberation Serif","fontSize":76,"fontWeight":"normal","anchor":"middle","offset":68},
"vconcat":[{"title":{"text":"Actual vs Predicted Cryptocurrency Prices (7-day Ahead, CNN)","fontSize":38.3,"frame":"group","offset":15},
"width":1773,"height":1058,
"layer":[
{"data":{"name":"actual"},"mark":{"type":"line","strokeWidth":4,"clip":true},
"encoding":{"x":{"field":"t","type":"quantitative","scale":{"domain":[-18.05,379.05],"nice":false,"zero":false},"axis":{"values":[0,50,100,150,200,250,300,350],"title":"Time"}},
"y":{"field":"p","type":"quantitative","scale":{"domain":[1403,4431],"nice":false,"zero":false},"axis":{"values":[1500,2000,2500,3000,3500,4000],"format":"d","title":"Price"}},
"color":{"datum":"Actual Prices","scale":{"domain":["Actual Prices","Predicted Prices (CNN - 7-day)"],"range":["#0000ff","#ff0000"]},"legend":{"title":null}},
"strokeDash":{"datum":"Actual Prices","scale":{"domain":["Actual Prices","Predicted Prices (CNN - 7-day)"],"range":[[1,0],[15,6.6]]},"legend":{"title":null}}}},
{"data":{"name":"cnn"},"mark":{"type":"line","strokeWidth":4,"clip":true},
"encoding":{"x":{"field":"t","type":"quantitative"},"y":{"field":"p","type":"quantitative"},
"color":{"datum":"Predicted Prices (CNN - 7-day)"},"strokeDash":{"datum":"Predicted Prices (CNN - 7-day)"}}}
]}]},
{"title":{"text":"(d) GRU","orient":"bottom","font":"Liberation Serif","fontSize":76,"fontWeight":"normal","anchor":"middle","offset":68},
"vconcat":[{"title":{"text":"Actual vs Predicted Cryptocurrency Prices (7-day Ahead, GRU)","fontSize":38.3,"frame":"group","offset":15},
"width":1770,"height":1058,
"layer":[
{"data":{"name":"actual"},"mark":{"type":"line","strokeWidth":4,"clip":true},
"encoding":{"x":{"field":"t","type":"quantitative","scale":{"domain":[-18.05,379.05],"nice":false,"zero":false},"axis":{"values":[0,50,100,150,200,250,300,350],"title":"Time"}},
"y":{"field":"p","type":"quantitative","scale":{"domain":[1411,4192],"nice":false,"zero":false},"axis":{"values":[1500,2000,2500,3000,3500,4000],"format":"d","title":"Price"}},
"color":{"datum":"Actual Prices","scale":{"domain":["Actual Prices","Predicted Prices (GRU - 7-day)"],"range":["#0000ff","#ff0000"]},"legend":{"title":null}},
"strokeDash":{"datum":"Actual Prices","scale":{"domain":["Actual Prices","Predicted Prices (GRU - 7-day)"],"range":[[1,0],[15,6.6]]},"legend":{"title":null}}}},
{"data":{"name":"gru"},"mark":{"type":"line","strokeWidth":4,"clip":true},
"encoding":{"x":{"field":"t","type":"quantitative"},"y":{"field":"p","type":"quantitative"},
"color":{"datum":"Predicted Prices (GRU - 7-day)"},"strokeDash":{"datum":"Predicted Prices (GRU - 7-day)"}}}
]}]}
]}
]
}
